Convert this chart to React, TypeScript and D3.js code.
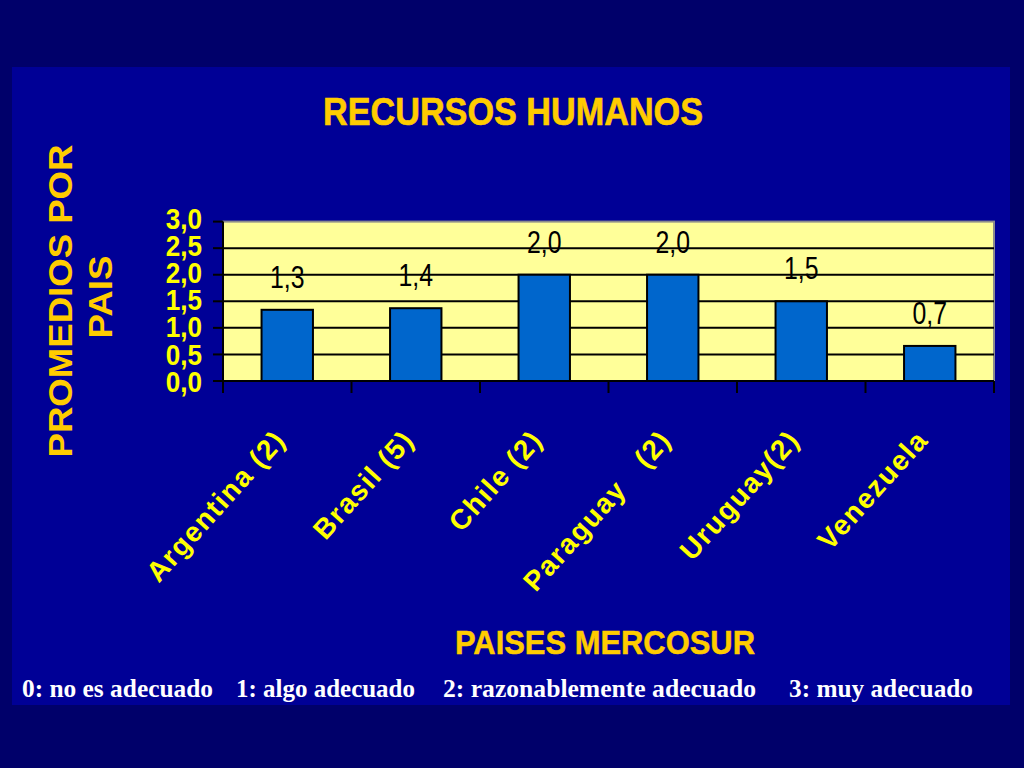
// @ts-nocheck
import * as d3 from "d3";

const countries = [
  "Argentina (2)",
  "Brasil (5)",
  "Chile (2)",
  "Paraguay   (2)",
  "Uruguay(2)",
  "Venezuela",
];
const averages = [1.34, 1.37, 2.0, 2.0, 1.5, 0.66];
const yTicks = [0, 0.5, 1, 1.5, 2, 2.5, 3];
const scaleNotes = [
  "0: no es adecuado",
  "1: algo adecuado",
  "2: razonablemente adecuado",
  "3: muy adecuado",
];

const W = 1024;
const H = 768;
const plot = { left: 223, right: 994, top: 221.6, bottom: 381 };
const notesX = [22, 236, 443, 789];
const notesLen = [191, 179, 313, 184];

const comma = (v: number) => d3.format(".1f")(v).replace(".", ",");

export default function App() {
  const x = d3
    .scaleBand()
    .domain(countries)
    .range([plot.left, plot.right])
    .padding(0);
  const y = d3.scaleLinear().domain([0, 3]).range([plot.bottom, plot.top]);
  const bw = x.bandwidth() * 0.4;
  const sans = "'Liberation Sans', Arial, sans-serif";

  return (
    <svg
      width={W}
      height={H}
      style={{ position: "fixed", left: 0, top: 0, display: "block" }}
    >
      <rect width={W} height={H} fill="#00006a" />
      <rect x={12} y={67} width={998} height={638} fill="#000096" />

      {/* title */}
      <text
        x={323}
        y={125}
        fontFamily={sans}
        fontWeight="bold"
        fontSize={38}
        fill="#ffcc00"
        stroke="#ffcc00"
        strokeWidth={0.6}
        textLength={380}
        lengthAdjust="spacingAndGlyphs"
      >
        RECURSOS HUMANOS
      </text>

      {/* plot area */}
      <rect
        x={plot.left}
        y={plot.top}
        width={plot.right - plot.left}
        height={plot.bottom - plot.top}
        fill="#ffff99"
        stroke="#8c8c8c"
        strokeWidth={2}
      />
      {yTicks.slice(1, -1).map((t) => (
        <line
          key={t}
          x1={plot.left}
          x2={plot.right}
          y1={y(t)}
          y2={y(t)}
          stroke="#000"
          strokeWidth={2}
        />
      ))}

      {/* bars */}
      {countries.map((c, i) => {
        const cx = x(c) + x.bandwidth() / 2;
        return (
          <g key={c}>
            <rect
              x={cx - bw / 2}
              y={y(averages[i])}
              width={bw}
              height={y(0) - y(averages[i])}
              fill="#0066cc"
              stroke="#000"
              strokeWidth={2}
            />
            <text
              transform={`translate(${cx},${y(averages[i]) - 22}) scale(0.8,1)`}
              textAnchor="middle"
              fontFamily={sans}
              fontSize={31}
              fill="#000"
            >
              {comma(averages[i])}
            </text>
          </g>
        );
      })}

      {/* axes */}
      <line x1={plot.left} x2={plot.left} y1={plot.top} y2={plot.bottom} stroke="#000" strokeWidth={2} />
      <line x1={plot.left} x2={plot.right} y1={plot.bottom} y2={plot.bottom} stroke="#000" strokeWidth={2} />
      {yTicks.map((t) => (
        <g key={t}>
          <line x1={plot.left - 10} x2={plot.left} y1={y(t)} y2={y(t)} stroke="#000" strokeWidth={2} />
          <text
            transform={`translate(202,${y(t) + 9 - (t - 1.5) * 1.2}) scale(0.9,1)`}
            textAnchor="end"
            fontFamily={sans}
            fontWeight="bold"
            fontSize={29}
            fill="#ffff00"
          >
            {comma(t)}
          </text>
        </g>
      ))}
      {[...countries.map((c) => x(c)), plot.right].map((px, i) => (
        <line key={i} x1={px} x2={px} y1={plot.bottom} y2={plot.bottom + 12} stroke="#000" strokeWidth={2} />
      ))}

      {/* category labels */}
      {countries.map((c) => (
        <text
          key={c}
          transform={`translate(${x(c) + x.bandwidth() / 2},441) rotate(-48)`}
          textAnchor="end"
          fontFamily={sans}
          fontWeight="bold"
          fontSize={28}
          letterSpacing={1.5}
          fill="#ffff00"
          style={{ whiteSpace: "pre" }}
        >
          {c}
        </text>
      ))}

      {/* y title */}
      <text
        transform="translate(72,301) rotate(-90)"
        textAnchor="middle"
        fontFamily={sans}
        fontWeight="bold"
        fontSize={34}
        fill="#ffcc00"
        textLength={313}
        lengthAdjust="spacingAndGlyphs"
      >
        PROMEDIOS POR
      </text>
      <text
        transform="translate(112,297) rotate(-90)"
        textAnchor="middle"
        fontFamily={sans}
        fontWeight="bold"
        fontSize={34}
        fill="#ffcc00"
        textLength={83}
        lengthAdjust="spacingAndGlyphs"
      >
        PAIS
      </text>

      {/* x title */}
      <text
        x={455}
        y={654}
        fontFamily={sans}
        fontWeight="bold"
        fontSize={34}
        fill="#ffcc00"
        stroke="#ffcc00"
        strokeWidth={0.5}
        textLength={300}
        lengthAdjust="spacingAndGlyphs"
      >
        PAISES MERCOSUR
      </text>

      {/* scale notes */}
      {scaleNotes.map((s, i) => (
        <text
          key={s}
          x={notesX[i]}
          y={697}
          fontFamily="'Liberation Serif', 'Times New Roman', serif"
          fontWeight="bold"
          fontSize={25}
          fill="#ffffff"
          textLength={notesLen[i]}
          lengthAdjust="spacingAndGlyphs"
        >
          {s}
        </text>
      ))}
    </svg>
  );
}
